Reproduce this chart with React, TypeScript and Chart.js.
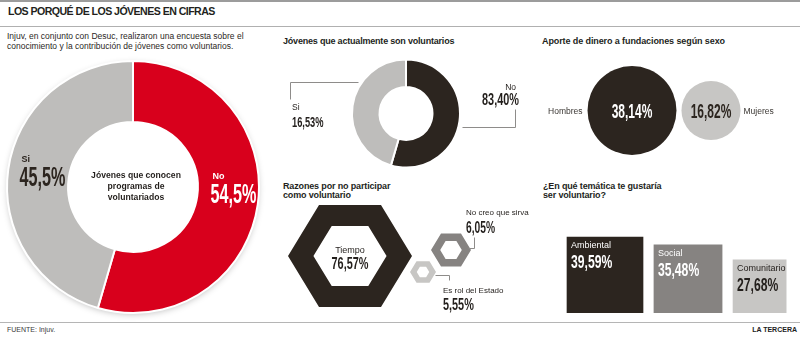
import React, { useEffect, useRef } from "react";
import { Chart, registerables } from "chart.js";
Chart.register(...registerables);

// ---------------- data ----------------
const TITLE = "LOS PORQUÉ DE LOS JÓVENES EN CIFRAS";
const INTRO_LINES = [
  "Injuv, en conjunto con Desuc, realizaron una encuesta sobre el",
  "conocimiento y la contribución de jóvenes como voluntarios.",
];
const SOURCE = "FUENTE: Injuv.";
const BRAND = "LA TERCERA";

const knowCategories = ["No", "Si"];
const knowValues = [54.5, 45.5];
const knowCenterLines = ["Jóvenes que conocen", "programas de", "voluntariados"];

const activeTitle = "Jóvenes que actualmente son voluntarios";
const activeCategories = ["No", "Si"];
const activeValues = [83.4, 16.53];
// slice sizes as they are drawn in the original graphic
const activeDrawnShares = [54.5, 45.5];

const giftTitle = "Aporte de dinero a fundaciones según sexo";
const giftCategories = ["Hombres", "Mujeres"];
const giftValues = [38.14, 16.82];

const reasonTitleLines = ["Razones por no participar", "como voluntario"];
const reasonCategories = ["Tiempo", "No creo que sirva", "Es rol del Estado"];
const reasonValues = [76.57, 6.05, 5.55];

const themeTitleLines = ["¿En qué temática te gustaría", "ser voluntario?"];
const themeCategories = ["Ambiental", "Social", "Comunitario"];
const themeValues = [39.59, 35.48, 27.68];

// ---------------- styles / layout ----------------
const RED = "#d8001c";
const ASH = "#bebdbb";
const INK = "#2c251f";
const STONE = "#868381";
const SILVER = "#c7c6c4";
const TEXT = "#231f1c";
const LEADER = "#8e8c8a";
const SANS = '"Liberation Sans", Arial, sans-serif';

const GIFT_K = 7.2; // bubble radius per sqrt(percent)
const GIFT_GAP = 5;
const hexStyle = [
  { R: 62, hole: 0.59, color: INK },
  { R: 20, hole: 0.54, color: STONE },
  { R: 13, hole: 0.48, color: SILVER },
];
const hexPos = [
  { x: 80, y: 66 },
  { x: 181, y: 60 },
  { x: 153, y: 82 },
];
const BAR_PX = 1.92; // pixels per percent point (both axes)
const BAR_GAP = 5.7; // gap between squares, in percent units
const BAR_LEFT = 37;

const fmt = (v: number, d: number) => v.toFixed(d).replace(".", ",") + "%";

function num(ctx: CanvasRenderingContext2D, text: string, x: number, y: number, size: number, color: string, align: "left" | "right" | "center" = "left", sx = 0.62) {
  ctx.save();
  ctx.font = `bold ${size}px ${SANS}`;
  ctx.textAlign = "left";
  ctx.textBaseline = "alphabetic";
  ctx.fillStyle = color;
  const w = ctx.measureText(text).width * sx;
  const left = align === "left" ? x : align === "right" ? x - w : x - w / 2;
  ctx.translate(left, y);
  ctx.scale(sx, 1);
  ctx.fillText(text, 0, 0);
  ctx.restore();
}

function txt(ctx: CanvasRenderingContext2D, text: string, x: number, y: number, size: number, color: string, align: CanvasTextAlign = "left", bold = false) {
  ctx.save();
  ctx.font = `${bold ? "bold " : ""}${size}px ${SANS}`;
  ctx.textAlign = align;
  ctx.textBaseline = "alphabetic";
  ctx.fillStyle = color;
  ctx.fillText(text, x, y);
  ctx.restore();
}

function line(ctx: CanvasRenderingContext2D, pts: number[][]) {
  ctx.save();
  ctx.strokeStyle = LEADER;
  ctx.lineWidth = 1;
  ctx.beginPath();
  pts.forEach((p, i) => (i ? ctx.lineTo(Math.round(p[0]) + 0.5, Math.round(p[1]) + 0.5) : ctx.moveTo(Math.round(p[0]) + 0.5, Math.round(p[1]) + 0.5)));
  ctx.stroke();
  ctx.restore();
}

function hexRing(R: number, hole: number, color: string) {
  const c = document.createElement("canvas");
  const s = Math.ceil(2 * R + 2);
  c.width = s;
  c.height = s;
  const g = c.getContext("2d")!;
  const m = s / 2;
  g.fillStyle = color;
  g.beginPath();
  [R, R * hole].forEach((rr) => {
    for (let k = 0; k < 6; k++) {
      const a = (k * Math.PI) / 3;
      const px = m + rr * Math.cos(a);
      const py = m + rr * Math.sin(a) * 0.95;
      if (k) g.lineTo(px, py);
      else g.moveTo(px, py);
    }
    g.closePath();
  });
  g.fill("evenodd");
  return c;
}

const baseOpts = {
  responsive: false,
  animation: false as const,
  events: [] as any[],
  plugins: { legend: { display: false }, tooltip: { enabled: false } },
};

// ---------------- chart builders ----------------
function buildKnow(): any {
  const halo = {
    id: "halo",
    beforeDatasetsDraw(chart: any) {
      const el = chart.getDatasetMeta(0).data[0];
      const ctx = chart.ctx;
      ctx.save();
      ctx.shadowColor = "rgba(0,0,0,0.28)";
      ctx.shadowBlur = 7;
      ctx.shadowOffsetY = 2;
      ctx.fillStyle = "#fff";
      ctx.beginPath();
      ctx.arc(el.x, el.y, el.outerRadius - 1, 0, Math.PI * 2);
      ctx.fill();
      ctx.restore();
    },
  };
  const offs = [
    { dx: -17, dy: 3, color: "#fff" },
    { dx: -19, dy: 12, color: INK },
  ];
  const labels = {
    id: "knowLabels",
    afterDatasetsDraw(chart: any) {
      const ctx = chart.ctx;
      const meta = chart.getDatasetMeta(0);
      meta.data.forEach((el: any, i: number) => {
        const p = el.getCenterPoint();
        const o = offs[i];
        const x = p.x + o.dx;
        const y = p.y + o.dy;
        txt(ctx, knowCategories[i], x + 2, y - 24, 9, o.color, "left", true);
        num(ctx, fmt(knowValues[i], 1), x, y, 27, o.color, "left", 0.6);
      });
      const c = meta.data[0];
      knowCenterLines.forEach((l, k) => txt(ctx, l, c.x + 3, c.y - 9 + k * 11, 8.6, TEXT, "center", true));
    },
  };
  return {
    type: "doughnut",
    data: {
      labels: knowCategories,
      datasets: [{ data: knowValues, backgroundColor: [RED, ASH], borderColor: "#fff", borderWidth: 2 }],
    },
    options: { ...baseOpts, radius: 126, cutout: "51.5%", layout: { padding: 0 } },
    plugins: [halo, labels],
  };
}

function buildActive(): any {
  const labels = {
    id: "activeLabels",
    afterDatasetsDraw(chart: any) {
      const ctx = chart.ctx;
      const el = chart.getDatasetMeta(0).data[0];
      const cx = el.x, cy = el.y, R = el.outerRadius;
      // Si
      const ys = cy - 31.5;
      line(ctx, [[cx - Math.sqrt(R * R - 31.5 * 31.5) - 4, ys], [cx - 116, ys], [cx - 116, cy - 15]]);
      txt(ctx, activeCategories[1], cx - 114, cy - 3.5, 8.5, TEXT);
      num(ctx, fmt(activeValues[1], 2), cx - 114, cy + 13, 15.5, TEXT, "left", 0.6);
      // No
      const yn = cy + 13.5;
      line(ctx, [[cx + 109, cy - 5], [cx + 109, yn], [cx + Math.sqrt(R * R - 13.5 * 13.5) + 4, yn]]);
      txt(ctx, activeCategories[0], cx + 110, cy - 23.5, 8.5, TEXT, "right");
      num(ctx, fmt(activeValues[0], 2), cx + 113, cy - 8.5, 16.5, TEXT, "right", 0.66);
    },
  };
  return {
    type: "doughnut",
    data: {
      labels: activeCategories,
      datasets: [{ data: activeDrawnShares, backgroundColor: [INK, ASH], borderColor: "#fff", borderWidth: 2 }],
    },
    options: { ...baseOpts, radius: 54, cutout: "49%", layout: { padding: { left: 12, top: 7 } } },
    plugins: [labels],
  };
}

function buildGift(): any {
  const radii = giftValues.map((v) => GIFT_K * Math.sqrt(v));
  const xs: number[] = [];
  radii.forEach((r, i) => xs.push(i === 0 ? 0 : xs[i - 1] + radii[i - 1] + GIFT_GAP + r));
  const labels = {
    id: "giftLabels",
    afterDatasetsDraw(chart: any) {
      const ctx = chart.ctx;
      chart.getDatasetMeta(0).data.forEach((el: any, i: number) => {
        const r = radii[i];
        num(ctx, fmt(giftValues[i], 2), el.x, el.y + 7.5, 20, i === 0 ? "#fff" : INK, "center", 0.6);
        if (i === 0) txt(ctx, giftCategories[i], el.x - r - 5, el.y + 3, 8.5, "#3a3632", "right");
        else txt(ctx, giftCategories[i], el.x + r + 3, el.y + 3, 8.5, "#3a3632", "left");
      });
    },
  };
  return {
    type: "bubble",
    data: {
      datasets: [
        {
          data: giftValues.map((v, i) => ({ x: xs[i], y: 0, r: radii[i] })),
          backgroundColor: [INK, SILVER],
          borderWidth: 0,
          clip: false,
        },
      ],
    },
    options: {
      ...baseOpts,
      layout: { padding: { bottom: 4 }, autoPadding: false },
      scales: {
        x: { type: "linear", display: false, min: -102, max: 168 },
        y: { type: "linear", display: false, min: -1, max: 1 },
      },
    },
    plugins: [labels],
  };
}

function buildReasons(): any {
  const images = hexStyle.map((h) => hexRing(h.R, h.hole, h.color));
  const labels = {
    id: "reasonLabels",
    afterDatasetsDraw(chart: any) {
      const ctx = chart.ctx;
      const els = chart.getDatasetMeta(0).data;
      const big = els[0], med = els[1], sm = els[2];
      txt(ctx, reasonCategories[0], big.x, big.y - 3.5, 9, TEXT, "center");
      num(ctx, fmt(reasonValues[0], 2), big.x, big.y + 13, 17, TEXT, "center", 0.64);
      line(ctx, [[med.x + 17, med.y - 2], [med.x + 23, med.y - 2], [med.x + 23, med.y - 13]]);
      txt(ctx, reasonCategories[1], med.x + 15, med.y - 35, 8, TEXT, "left");
      num(ctx, fmt(reasonValues[1], 2), med.x + 15, med.y - 17.5, 16, TEXT, "left", 0.64);
      line(ctx, [[sm.x + 12, sm.y + 3], [sm.x + 26, sm.y + 3], [sm.x + 26, sm.y + 8]]);
      txt(ctx, reasonCategories[2], sm.x + 20, sm.y + 20.5, 8, TEXT, "left");
      num(ctx, fmt(reasonValues[2], 2), sm.x + 20, sm.y + 38, 17, TEXT, "left", 0.64);
    },
  };
  return {
    type: "bubble",
    data: {
      datasets: [
        {
          data: reasonValues.map((v, i) => ({ x: hexPos[i].x, y: hexPos[i].y, r: hexStyle[i].R, v })),
          pointStyle: images,
          backgroundColor: hexStyle.map((h) => h.color),
          borderWidth: 0,
          clip: false,
        },
      ],
    },
    options: {
      ...baseOpts,
      layout: { padding: 0, autoPadding: false },
      scales: {
        x: { type: "linear", display: false, min: 0, max: 260 },
        y: { type: "linear", display: false, min: 0, max: 130, reverse: true },
      },
    },
    plugins: [labels],
  };
}

function buildThemes(): any {
  const centers: number[] = [];
  let acc = 0;
  themeValues.forEach((v) => {
    centers.push(acc + v / 2);
    acc += v + BAR_GAP;
  });
  const colors = [INK, STONE, SILVER];
  const textColors = ["#fff", "#fff", TEXT];
  const labels = {
    id: "themeLabels",
    afterDatasetsDraw(chart: any) {
      const ctx = chart.ctx;
      themeValues.forEach((v, i) => {
        const el = chart.getDatasetMeta(i).data[0];
        const left = el.x - el.width / 2 + 4;
        txt(ctx, themeCategories[i], left, el.y + 11.5, 9, textColors[i], "left");
        num(ctx, fmt(v, 2), left, el.y + 31, 19, textColors[i], "left", 0.64);
      });
    },
  };
  return {
    type: "bar",
    data: {
      datasets: themeValues.map((v, i) => ({
        label: themeCategories[i],
        data: [{ x: centers[i], y: v }],
        backgroundColor: colors[i],
        borderWidth: 0,
        barThickness: v * BAR_PX,
        stack: "themes",
      })),
    },
    options: {
      ...baseOpts,
      layout: { padding: { bottom: 7 } },
      scales: {
        x: { type: "linear", display: false, offset: false, min: -BAR_LEFT / BAR_PX, max: (270 - BAR_LEFT) / BAR_PX },
        y: { type: "linear", display: false, stacked: false, min: 0, max: 118 / BAR_PX },
      },
    },
    plugins: [labels],
  };
}

// ---------------- components ----------------
function ChartBox({ x, y, w, h, build }: { x: number; y: number; w: number; h: number; build: () => any }) {
  const ref = useRef<HTMLCanvasElement | null>(null);
  useEffect(() => {
    if (!ref.current) return;
    const chart = new Chart(ref.current, build());
    return () => chart.destroy();
  }, []);
  return <canvas ref={ref} width={w} height={h} style={{ position: "absolute", left: x, top: y, width: w, height: h }} />;
}

function T({ x, base, size, bold, color = TEXT, right, spacing, children }: any) {
  const style: React.CSSProperties = {
    position: "absolute",
    top: base - size * 0.92,
    fontFamily: SANS,
    fontSize: size,
    lineHeight: `${size * 1.15}px`,
    fontWeight: bold ? 700 : 400,
    color,
    whiteSpace: "nowrap",
    letterSpacing: spacing,
  };
  if (right) style.right = 800 - x;
  else style.left = x;
  return <div style={style}>{children}</div>;
}

const Rule = ({ y, h = 1, color = "#a9a9a9" }: any) => (
  <div style={{ position: "absolute", left: 0, top: y, width: 800, height: h, background: color }} />
);

export default function App() {
  return (
    <div style={{ position: "absolute", left: 0, top: 0, width: 800, height: 337, background: "#fff", overflow: "hidden" }}>
      <Rule y={0} h={2} color="#9c9c9c" />
      <T x={8} base={14.3} size={10.6} bold spacing={-0.55}>{TITLE}</T>
      <Rule y={26} h={1} color="#b0b0b0" />
      {INTRO_LINES.map((l, i) => (
        <T key={i} x={7} base={39.5 + i * 10} size={8.5} color="#2b2724">{l}</T>
      ))}
      <T x={283} base={44.5} size={9} bold spacing={-0.2}>{activeTitle}</T>
      <T x={542} base={44.5} size={9} bold spacing={-0.1}>{giftTitle}</T>
      {reasonTitleLines.map((l, i) => (
        <T key={i} x={283} base={189.5 + i * 9} size={9} bold spacing={-0.15}>{l}</T>
      ))}
      {themeTitleLines.map((l, i) => (
        <T key={i} x={543} base={189.5 + i * 9} size={9} bold spacing={-0.15}>{l}</T>
      ))}

      <ChartBox x={-2} y={52} w={270} h={270} build={buildKnow} />
      <ChartBox x={270} y={50} w={260} h={120} build={buildActive} />
      <ChartBox x={530} y={55} w={270} h={115} build={buildGift} />
      <ChartBox x={270} y={190} w={260} h={130} build={buildReasons} />
      <ChartBox x={530} y={195} w={270} h={125} build={buildThemes} />

      <Rule y={322} h={1} color="#b5b5b5" />
      <T x={7} base={332} size={7} color="#3a3a3a">{SOURCE}</T>
      <T x={797} base={332} size={7} bold right color="#222">{BRAND}</T>
    </div>
  );
}
